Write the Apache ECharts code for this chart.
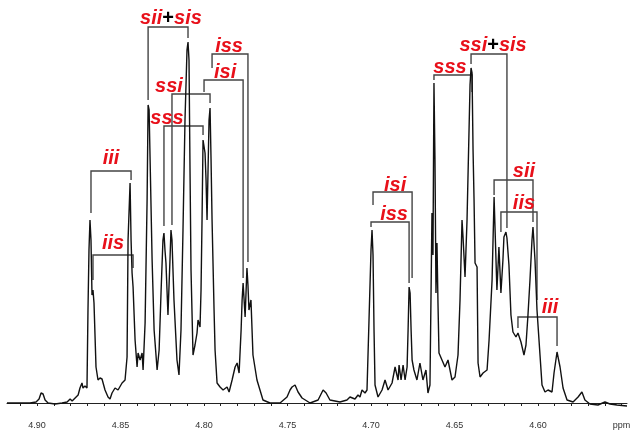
<!DOCTYPE html>
<html>
<head>
<meta charset="utf-8">
<script src="https://cdn.jsdelivr.net/npm/echarts@6/dist/echarts.min.js"></script>
<style>
html, body { margin: 0; padding: 0; background: #fff; }
#chart { width: 635px; height: 436px; }
</style>
</head>
<body>
<div id="chart"></div>
<script>
/* chemical shift (ppm) and intensity */
var shift = [
    4.9180, 4.9102, 4.9042, 4.9006, 4.8988, 4.8976, 4.8970, 4.8964, 4.8952, 4.8934,
    4.8892, 4.8850, 4.8820, 4.8802, 4.8790, 4.8772, 4.8754, 4.8743, 4.8731, 4.8725,
    4.8713, 4.8701, 4.8695, 4.8689, 4.8683, 4.8677, 4.8671, 4.8665, 4.8659, 4.8647,
    4.8635, 4.8623, 4.8611, 4.8593, 4.8575, 4.8563, 4.8551, 4.8533, 4.8515, 4.8491,
    4.8473, 4.8461, 4.8455, 4.8443, 4.8437, 4.8431, 4.8425, 4.8413, 4.8401, 4.8395,
    4.8383, 4.8371, 4.8365, 4.8353, 4.8341, 4.8335, 4.8329, 4.8323, 4.8311, 4.8299,
    4.8281, 4.8269, 4.8257, 4.8246, 4.8240, 4.8234, 4.8228, 4.8216, 4.8204, 4.8198,
    4.8192, 4.8180, 4.8162, 4.8150, 4.8138, 4.8126, 4.8114, 4.8102, 4.8096, 4.8090,
    4.8084, 4.8078, 4.8066, 4.8054, 4.8042, 4.8036, 4.8024, 4.8018, 4.8012, 4.8006,
    4.7994, 4.7988, 4.7982, 4.7976, 4.7970, 4.7964, 4.7958, 4.7952, 4.7940, 4.7934,
    4.7922, 4.7904, 4.7886, 4.7862, 4.7850, 4.7832, 4.7814, 4.7802, 4.7790, 4.7778,
    4.7772, 4.7766, 4.7754, 4.7743, 4.7737, 4.7731, 4.7719, 4.7707, 4.7683, 4.7665,
    4.7647, 4.7605, 4.7545, 4.7503, 4.7485, 4.7473, 4.7455, 4.7437, 4.7413, 4.7365,
    4.7317, 4.7299, 4.7287, 4.7269, 4.7246, 4.7186, 4.7144, 4.7126, 4.7096, 4.7078,
    4.7066, 4.7054, 4.7036, 4.7024, 4.7012, 4.7000, 4.6994, 4.6988, 4.6982, 4.6976,
    4.6958, 4.6934, 4.6916, 4.6898, 4.6874, 4.6856, 4.6838, 4.6832, 4.6820, 4.6808,
    4.6796, 4.6784, 4.6778, 4.6772, 4.6766, 4.6760, 4.6754, 4.6743, 4.6725, 4.6707,
    4.6689, 4.6671, 4.6659, 4.6647, 4.6641, 4.6635, 4.6629, 4.6623, 4.6617, 4.6611,
    4.6605, 4.6599, 4.6593, 4.6575, 4.6557, 4.6539, 4.6515, 4.6497, 4.6479, 4.6467,
    4.6455, 4.6449, 4.6437, 4.6425, 4.6413, 4.6407, 4.6401, 4.6395, 4.6389, 4.6383,
    4.6377, 4.6365, 4.6359, 4.6347, 4.6329, 4.6305, 4.6293, 4.6275, 4.6263, 4.6257,
    4.6246, 4.6234, 4.6222, 4.6210, 4.6204, 4.6192, 4.6186, 4.6174, 4.6162, 4.6150,
    4.6132, 4.6120, 4.6102, 4.6084, 4.6072, 4.6060, 4.6048, 4.6036, 4.6030, 4.6018,
    4.6006, 4.5988, 4.5976, 4.5958, 4.5940, 4.5916, 4.5904, 4.5886, 4.5868, 4.5850,
    4.5826, 4.5790, 4.5760, 4.5737, 4.5719, 4.5689, 4.5641, 4.5599, 4.5569, 4.5527,
    4.5467
];
var intensity = [
    0, 0, 0, 1, 4, 10, 12, 9, 3, 0,
    -1, 0, 1, 4, 2, 5, 8, 15, 20, 15,
    17, 15, 93, 153, 183, 163, 108, 113, 100, 36,
    23, 25, 24, 13, 6, 4, 10, 15, 13, 20,
    23, 46, 163, 220, 163, 130, 116, 63, 36, 50,
    43, 50, 33, 80, 203, 298, 293, 243, 143, 73,
    33, 53, 113, 163, 170, 153, 140, 88, 143, 173,
    163, 103, 43, 28, 73, 173, 283, 353, 361, 343,
    233, 133, 48, 58, 70, 83, 76, 113, 183, 263,
    250, 223, 183, 233, 283, 295, 243, 183, 93, 53,
    20, 16, 13, 16, 11, 23, 36, 40, 30, 73,
    103, 120, 86, 135, 118, 93, 103, 48, 23, 13,
    3, 0, 0, 6, 13, 16, 18, 11, 5, 0,
    3, 9, 13, 10, 3, 1, 3, 6, 4, 8,
    6, 13, 10, 13, 83, 153, 173, 148, 73, 18,
    6, 13, 23, 13, 20, 36, 23, 38, 23, 38,
    23, 36, 73, 116, 110, 73, 43, 33, 23, 40,
    23, 33, 10, 18, 103, 190, 148, 320, 243, 110,
    160, 100, 50, 43, 36, 43, 23, 26, 48, 103,
    183, 166, 126, 183, 273, 318, 335, 330, 253, 203,
    140, 136, 40, 26, 30, 33, 63, 123, 206, 173,
    113, 156, 110, 143, 166, 171, 165, 138, 88, 71,
    66, 70, 61, 48, 58, 88, 123, 163, 176, 143,
    93, 48, 18, 11, 13, 11, 30, 51, 36, 15,
    3, 1, 6, 11, 3, -1, -2, 1, -1, -2,
    -3
];

/* assignment brackets: [left ppm, right ppm, top, left foot, right foot] */
var brackets = [
    [4.8677, 4.8437, 232, 190, 223],
    [4.8665, 4.8425, 148, 123, 135],
    [4.8335, 4.8096, 376, 303, 365],
    [4.8192, 4.7964, 309, 178, 300],
    [4.8240, 4.8006, 277, 177, 268],
    [4.7952, 4.7737, 349, 335, 141],
    [4.8000, 4.7766, 323, 311, 125],
    [4.6988, 4.6754, 211, 198, 125],
    [4.7000, 4.6772, 181, 176, 120],
    [4.6623, 4.6395, 328, 323, 311],
    [4.6401, 4.6186, 349, 339, 175],
    [4.6263, 4.6030, 223, 208, 181],
    [4.6222, 4.6006, 191, 171, 103],
    [4.6120, 4.5886, 86, 75, 57]
];
var labelNames = ['iii', 'iis', 'sii+sis', 'ssi', 'sss', 'iss', 'isi',
                  'isi', 'iss', 'sss', 'ssi+sis', 'sii', 'iis', 'iii'];
var labelX = [4.8557, 4.8545, 4.8198, 4.8210, 4.8222, 4.7850, 4.7874,
              4.6856, 4.6862, 4.6527, 4.6269, 4.6084, 4.6084, 4.5928];
var labelY = [245, 160, 385, 317, 285, 357, 331,
              218, 189, 336, 358, 232, 200, 96];

var tickValues = [];
for (var t = 455; t <= 491; t++) { tickValues.push(t / 100); }
var labelValues = [4.55, 4.60, 4.65, 4.70, 4.75, 4.80, 4.85, 4.90];

var spectrum = [];
for (var i = 0; i < shift.length; i++) {
    spectrum.push([shift[i], intensity[i]]);
}
var labelData = [];
for (var j = 0; j < labelNames.length; j++) {
    labelData.push([labelX[j], labelY[j], labelNames[j]]);
}

var red = '#e8101a';
var txt = {
    color: red, fontSize: 20, fontStyle: 'italic', fontWeight: 'bold',
    fontFamily: '"Liberation Sans", Arial, sans-serif', opacity: 1
};

var myChart = echarts.init(document.getElementById('chart'));
var option = {
    animation: false,
    backgroundColor: '#fff',
    grid: { left: 7, right: 8, top: 0, bottom: 23 },
    xAxis: {
        type: 'value',
        inverse: true,
        min: 4.5467,
        max: 4.918,
        axisLine: { lineStyle: { color: '#222', width: 1 } },
        axisTick: {
            customValues: tickValues,
            length: 3,
            lineStyle: { color: '#222' }
        },
        axisLabel: {
            customValues: labelValues,
            margin: 8,
            fontSize: 9,
            color: '#333',
            fontFamily: '"Liberation Sans", Arial, sans-serif',
            formatter: function (v) {
                if (Math.abs(v - 4.55) < 1e-6) return 'ppm';
                return v.toFixed(2);
            }
        },
        splitLine: { show: false }
    },
    yAxis: {
        type: 'value',
        min: -10,
        max: 403,
        show: false,
        splitLine: { show: false }
    },
    series: [
        {
            type: 'line',
            data: spectrum,
            symbol: 'none',
            lineStyle: { color: '#111', width: 1.4 },
            silent: true
        },
        {
            type: 'custom',
            data: brackets,
            encode: { x: [0, 1], y: [2, 3, 4] },
            silent: true,
            renderItem: function (params, api) {
                var a = api.coord([api.value(0), api.value(3)]);
                var b = api.coord([api.value(0), api.value(2)]);
                var c = api.coord([api.value(1), api.value(2)]);
                var d = api.coord([api.value(1), api.value(4)]);
                return {
                    type: 'polyline',
                    shape: { points: [a, b, c, d] },
                    style: { stroke: '#444', lineWidth: 1.4, fill: null }
                };
            }
        },
        {
            type: 'scatter',
            data: labelData,
            symbolSize: 1,
            itemStyle: { color: 'rgba(0,0,0,0)', opacity: 1 },
            silent: true,
            label: {
                show: true,
                position: 'inside',
                opacity: 1,
                formatter: function (p) {
                    var parts = p.value[2].split('+');
                    if (parts.length > 1) {
                        return '{r|' + parts[0] + '}{k|+}{r|' + parts[1] + '}';
                    }
                    return '{r|' + parts[0] + '}';
                },
                rich: {
                    r: txt,
                    k: {
                        color: '#000', fontSize: 20, fontWeight: 'bold',
                        fontFamily: '"Liberation Sans", Arial, sans-serif'
                    }
                }
            }
        }
    ]
};
myChart.setOption(option);
</script>
</body>
</html>
